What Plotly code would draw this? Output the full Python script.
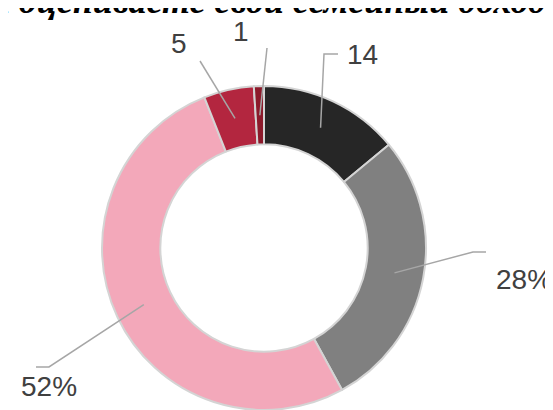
import math
import plotly.graph_objects as go

# ---- data ----
categories = ["A", "B", "C", "D", "E"]
values = [14, 28, 52, 5, 1]
label_texts = ["14", "28%", "52%", "5", "1"]
colors = ["#262626", "#808080", "#F3A8BA", "#B3263F", "#8C1A2B"]
title_text = "Как Вы оцениваете свой семейный доход?"

W, H = 553, 410
cx, cy, R = 256, 240, 162
hole = 0.64

fig = go.Figure()
fig.add_trace(go.Pie(
    labels=categories, values=values, sort=False, direction="clockwise",
    rotation=0, hole=hole, textinfo="none", hoverinfo="label+value",
    marker=dict(colors=colors, line=dict(color="#d4d4d4", width=2)),
    domain=dict(x=[(cx - R) / W, (cx + R) / W], y=[1 - (cy + R) / H, 1 - (cy - R) / H]),
    showlegend=False,
))

# label layout (pixel positions: elbow point, end of horizontal, text centre)
label_layout = [
    dict(elbow=(316, 46), end=(330, 46), text=(354, 47)),
    dict(elbow=(465, 244), end=(478, 244), text=(516, 271)),
    dict(elbow=(41, 359), end=(28, 359), text=(41, 378)),
    dict(elbow=(192, 53), end=(192, 53), text=(171, 36)),
    dict(elbow=(259, 40), end=(259, 40), text=(233, 23)),
]

total = sum(values)
cum = 0
shapes = []
annotations = []
rmid = R * (1 + hole) / 2
for v, t, lay in zip(values, label_texts, label_layout):
    mid = (cum + v / 2) / total * 2 * math.pi
    cum += v
    sx = cx + rmid * math.sin(mid)
    sy = cy - rmid * math.cos(mid)
    ex, ey = lay["elbow"]
    hx, hy = lay["end"]
    path = f"M {sx/W},{1-sy/H} L {ex/W},{1-ey/H} L {hx/W},{1-hy/H}"
    shapes.append(dict(type="path", xref="paper", yref="paper", path=path,
                       line=dict(color="#a6a6a6", width=1.5)))
    tx, ty = lay["text"]
    annotations.append(dict(x=tx / W, y=1 - ty / H, xref="paper", yref="paper",
                            text=t, showarrow=False, xanchor="center", yanchor="middle",
                            font=dict(family="Liberation Sans, Arial", size=28, color="#404040")))

annotations.append(dict(x=-120 / W, y=1 - 15 / H, xref="paper", yref="paper",
                        text="<b><i>" + title_text + "</i></b>", showarrow=False,
                        xanchor="left", yanchor="bottom",
                        font=dict(family="Liberation Serif, Times New Roman", size=36, color="#000000")))

fig.update_layout(
    width=W, height=H, margin=dict(l=0, r=0, t=0, b=0),
    paper_bgcolor="white", plot_bgcolor="white",
    shapes=shapes, annotations=annotations,
)
fig.write_html("out.html")
